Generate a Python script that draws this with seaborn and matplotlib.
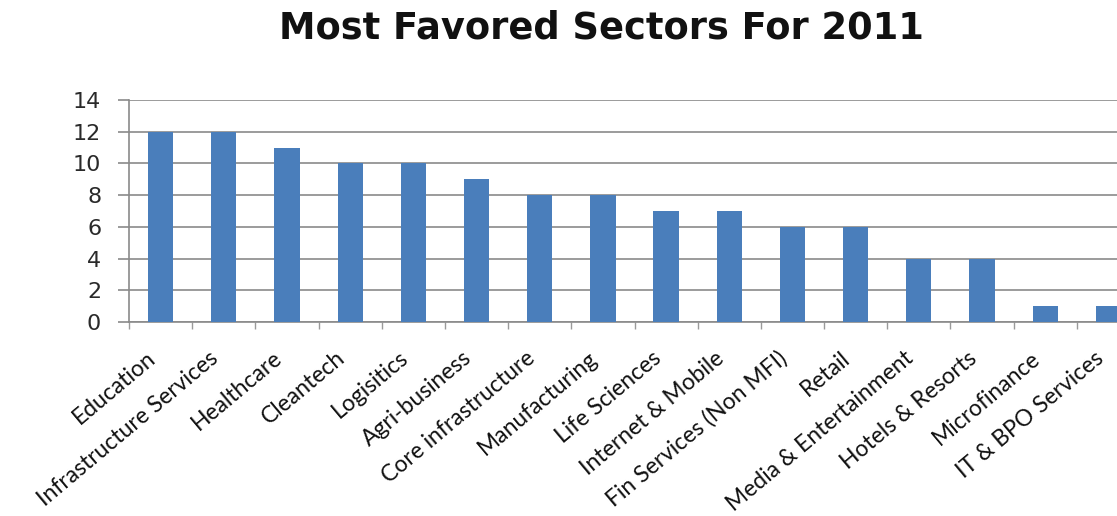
import matplotlib
matplotlib.use("Agg")
import matplotlib.pyplot as plt
import matplotlib.transforms as mtransforms
import seaborn as sns
import pandas as pd

sectors = ["Education", "Infrastructure Services", "Healthcare", "Cleantech", "Logisitics",
           "Agri-business", "Core infrastructure", "Manufacturing", "Life Sciences",
           "Internet & Mobile", "Fin Services (Non MFI)", "Retail", "Media & Entertainment",
           "Hotels & Resorts", "Microfinance", "IT & BPO Services"]
counts = [12, 12, 11, 10, 10, 9, 8, 8, 7, 7, 6, 6, 4, 4, 1, 1]
y_ticks = [0, 2, 4, 6, 8, 10, 12, 14]
title = "Most Favored Sectors For 2011"

df = pd.DataFrame({"sector": sectors, "count": counts})

sns.set_theme(style="white")
plt.rcParams['font.family'] = ['DejaVu Sans']

W, H = 1117, 516
fig = plt.figure(figsize=(W / 100, H / 100), dpi=100)
ax = fig.add_axes([129 / W, 1 - 322 / H, (1140 - 129) / W, 222 / H])

sns.barplot(data=df, x="sector", y="count", color="#4a7ebb", saturation=1,
            width=0.4, linewidth=0, ax=ax, zorder=3)

ax.set_ylim(0, 14)
ax.set_xlim(-0.5, len(sectors) - 0.5)
ax.set_yticks(y_ticks)
ax.set_yticklabels([str(v) for v in y_ticks], fontsize=16, color="#2a2a2a")
ax.yaxis.grid(True, color="#8a8a8a", linewidth=1.2, zorder=0)
ax.set_axisbelow(True)
ax.tick_params(axis="y", length=8, width=1.2, color="#8a8a8a", pad=12, left=True)

# category boundary ticks
ax.set_xticks([i - 0.5 for i in range(len(sectors) + 1)], minor=True)
ax.tick_params(axis="x", which="minor", length=5, width=1.0, color="#9a9a9a", bottom=True)
ax.tick_params(axis="x", which="major", length=0, pad=24)
ax.set_xticklabels(sectors, rotation=40, ha="right", va="center",
                   rotation_mode="anchor", fontsize=16.5, family="Lato", color="#111111")
offset = mtransforms.ScaledTranslation(-8 / 100, 0, fig.dpi_scale_trans)
for lbl in ax.get_xticklabels():
    lbl.set_transform(lbl.get_transform() + offset)

for side in ["top", "right"]:
    ax.spines[side].set_visible(False)
for side in ["left", "bottom"]:
    ax.spines[side].set_color("#8a8a8a")
    ax.spines[side].set_linewidth(1.2)

ax.set_xlabel("")
ax.set_ylabel("")

fig.text(601 / W, 1 - 28 / H, title, ha="center", va="center",
         fontsize=26.5, fontweight="bold", family="DejaVu Sans", color="#111111")

fig.savefig("out.png", dpi=100)
